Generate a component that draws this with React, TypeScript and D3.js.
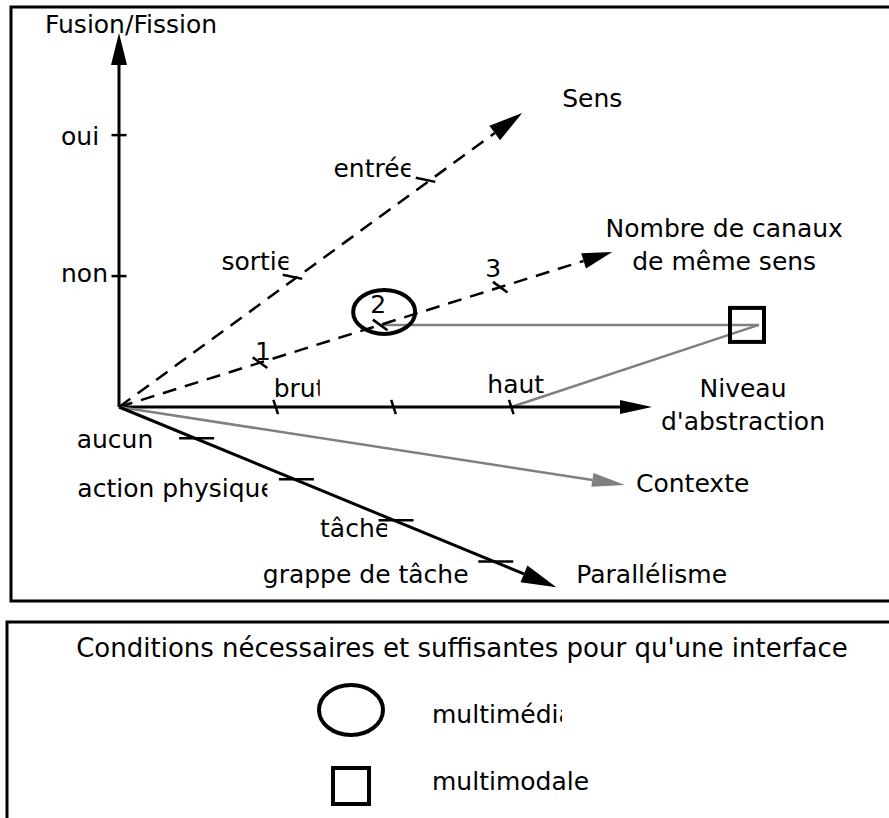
import React from "react";
import * as d3 from "d3";

const W = 889;
const H = 818;

// axes of the design space, ticks listed from the origin outward
const axisKeys = ["fusion", "sens", "canaux", "niveau", "contexte", "parallelisme"];
const axisTitles = [
  ["Fusion/Fission"],
  ["Sens"],
  ["Nombre de canaux", "de même sens"],
  ["Niveau", "d'abstraction"],
  ["Contexte"],
  ["Parallélisme"],
];
const fusionTicks = ["non", "oui"];
const sensTicks = ["sortie", "entrée"];
const canauxTicks = ["1", "2", "3"];
const niveauTicks = ["brut", "", "haut"];
const contexteTicks: string[] = [];
const parallelismeTicks = ["aucun", "action physique", "tâche", "grappe de tâche"];

// the two interfaces placed in the space
const multimediaPoint = { canaux: "2" };
const multimodalPoint = { canaux: "2", niveau: "haut" };

const legendTitle = "Conditions nécessaires et suffisantes pour qu'une interface";
const legendItems = ["multimédia", "multimodale"];

// ---- layout -------------------------------------------------------------
const FONT = "DejaVu Sans";
const FS = 25;
const GREY = "#808080";
const origin: [number, number] = [119, 407];

type Geom = {
  angle: number; len: number; range: [number, number];
  dash?: string; color: string; width: number; head: [number, number];
  tickAngle: number; tickLen: number; tickShift: number;
  labels: [number, number, number | null, string?][];
  title: [number, number, string, number];
};

const geom: Record<string, Geom> = {
  fusion: {
    angle: -90, len: 374, range: [0.35, 0.727], color: "#000", width: 3, head: [32, 8],
    tickAngle: 0, tickLen: 15, tickShift: 0,
    labels: [[-58, 6, null], [-58, 10, null]],
    title: [-74, 0, "start", 0],
  },
  sens: {
    angle: -36.1, len: 499, range: [0.44, 0.77], dash: "14 9", color: "#000", width: 2.5, head: [34, 9],
    tickAngle: 12, tickLen: 20, tickShift: -4,
    labels: [[-75, -8, 67], [-96, -4, 77]],
    title: [40, -6, "start", 0],
  },
  canaux: {
    angle: -17.45, len: 517, range: [0.286, 0.773], dash: "14 9", color: "#000", width: 2.5, head: [30, 8],
    tickAngle: 36, tickLen: 18, tickShift: 0,
    labels: [[3, -3, null, "middle"], [-2, -12, null, "middle"], [-7, -10, null, "middle"]],
    title: [112, -15, "middle", 33],
  },
  niveau: {
    angle: 0, len: 533, range: [0.294, 0.736], color: "#000", width: 3, head: [32, 7],
    tickAngle: 72, tickLen: 15, tickShift: 0,
    labels: [[-2, -10, 46], [0, 0, null], [-24, -14, null]],
    title: [91, -10, "middle", 33],
  },
  contexte: {
    angle: 8.76, len: 512, range: [0, 1], color: GREY, width: 2.5, head: [33, 7],
    tickAngle: 0, tickLen: 0, tickShift: 0,
    labels: [],
    title: [11, 7, "start", 0],
  },
  parallelisme: {
    angle: 22.4, len: 473, range: [0.173, 0.857], color: "#000", width: 3, head: [35, 9],
    tickAngle: 0, tickLen: 35, tickShift: 2,
    labels: [[-118, 10, null], [-217, 18, 190], [-74, 17, 67], [-231, 22, 209]],
    title: [20, -4, "start", 0],
  },
};

const tickLists: Record<string, string[]> = {
  fusion: fusionTicks, sens: sensTicks, canaux: canauxTicks,
  niveau: niveauTicks, contexte: contexteTicks, parallelisme: parallelismeTicks,
};

const rad = (a: number) => (a * Math.PI) / 180;
const along = (g: Geom, d: number): [number, number] => [
  origin[0] + Math.cos(rad(g.angle)) * d,
  origin[1] + Math.sin(rad(g.angle)) * d,
];

function axisScale(key: string) {
  const g = geom[key];
  return d3.scalePoint<number>()
    .domain(tickLists[key].map((_, i) => i) as any)
    .range([g.range[0] * g.len, g.range[1] * g.len]);
}

function tickPoint(key: string, label: string): [number, number] {
  const i = tickLists[key].indexOf(label);
  return along(geom[key], axisScale(key)(i as any) as number);
}

const textStyle: React.CSSProperties = { fontFamily: FONT, fontSize: FS };

function Axis({ k, idx }: { k: string; idx: number }) {
  const g = geom[k];
  const tip = along(g, g.len);
  const base = along(g, g.len - g.head[0]);
  const nx = -Math.sin(rad(g.angle));
  const ny = Math.cos(rad(g.angle));
  const head = [
    tip,
    [base[0] + nx * g.head[1], base[1] + ny * g.head[1]],
    [base[0] - nx * g.head[1], base[1] - ny * g.head[1]],
  ];
  const sc = axisScale(k);
  const ticks = tickLists[k];
  const [tdx, tdy, tAnchor, tLine] = g.title;
  return (
    <g>
      <line x1={origin[0]} y1={origin[1]} x2={base[0]} y2={base[1]}
        stroke={g.color} strokeWidth={g.width} strokeDasharray={g.dash} />
      <polygon points={head.map((p) => p.join(",")).join(" ")} fill={g.color} />
      {ticks.map((t, i) => {
        const p = along(g, sc(i as any) as number);
        const ux = Math.cos(rad(g.tickAngle));
        const uy = Math.sin(rad(g.tickAngle));
        const c = [p[0] + ux * g.tickShift, p[1] + uy * g.tickShift];
        const [dx, dy, clipW, anchor] = g.labels[i];
        const id = `clip-${k}-${i}`;
        return (
          <g key={i}>
            <line x1={c[0] - (ux * g.tickLen) / 2} y1={c[1] - (uy * g.tickLen) / 2}
              x2={c[0] + (ux * g.tickLen) / 2} y2={c[1] + (uy * g.tickLen) / 2}
              stroke={g.color} strokeWidth={2.5} />
            {clipW != null && (
              <clipPath id={id}>
                <rect x={p[0] + dx} y={p[1] + dy - 40} width={clipW} height={60} />
              </clipPath>
            )}
            {t && (
              <text x={p[0] + dx} y={p[1] + dy} textAnchor={anchor || "start"}
                clipPath={clipW != null ? `url(#${id})` : undefined} style={textStyle}>
                {t}
              </text>
            )}
          </g>
        );
      })}
      {axisTitles[idx].map((line, j) => (
        <text key={j} x={tip[0] + tdx} y={tip[1] + tdy + j * tLine}
          textAnchor={tAnchor} style={textStyle}>{line}</text>
      ))}
    </g>
  );
}

export default function App() {
  const p2 = tickPoint("canaux", multimediaPoint.canaux);
  const pHaut = tickPoint("niveau", multimodalPoint.niveau);
  const niveauTip = along(geom.niveau, geom.niveau.len);
  const niveauTitleX = niveauTip[0] + geom.niveau.title[0];
  const pMod: [number, number] = [niveauTitleX + 16, tickPoint("canaux", multimodalPoint.canaux)[1]];
  const legendY = d3.scalePoint<string>().domain(legendItems).range([710, 786]);

  return (
    <svg width={W} height={H} style={{ position: "absolute", left: 0, top: 0 }}>
      <rect width={W} height={H} fill="#fff" />
      {/* diagram frame, open on the right */}
      <path d={`M${W + 5},7 H11 V601 H${W + 5}`} fill="none" stroke="#000" strokeWidth={3} />

      <line x1={p2[0]} y1={p2[1]} x2={pMod[0]} y2={pMod[1]} stroke={GREY} strokeWidth={2.5} />
      <line x1={pHaut[0]} y1={pHaut[1]} x2={pMod[0]} y2={pMod[1]} stroke={GREY} strokeWidth={2.5} />

      {axisKeys.map((k, i) => <Axis key={k} k={k} idx={i} />)}

      <ellipse cx={p2[0] + 4} cy={p2[1] - 13} rx={31} ry={22} fill="none" stroke="#000" strokeWidth={4} />
      <rect x={pMod[0] - 12 - 17} y={pMod[1] - 17} width={34} height={34} fill="none" stroke="#000" strokeWidth={4} />

      {/* legend */}
      <path d={`M${W + 5},622 H7 V${H + 5}`} fill="none" stroke="#000" strokeWidth={3} />
      <text x={462} y={657} textAnchor="middle" style={{ ...textStyle, fontSize: 26 }}>{legendTitle}</text>
      <ellipse cx={351} cy={legendY(legendItems[0])} rx={32} ry={25} fill="none" stroke="#000" strokeWidth={4} />
      <rect x={351 - 18} y={(legendY(legendItems[1]) as number) - 18} width={36} height={36}
        fill="none" stroke="#000" strokeWidth={4} />
      <clipPath id="clip-leg-0">
        <rect x={432} y={650} width={130} height={100} />
      </clipPath>
      {legendItems.map((t, i) => (
        <text key={t} x={432} y={(legendY(t) as number) + (i === 0 ? 13 : 4)} style={textStyle}
          clipPath={i === 0 ? "url(#clip-leg-0)" : undefined}>{t}</text>
      ))}
    </svg>
  );
}
